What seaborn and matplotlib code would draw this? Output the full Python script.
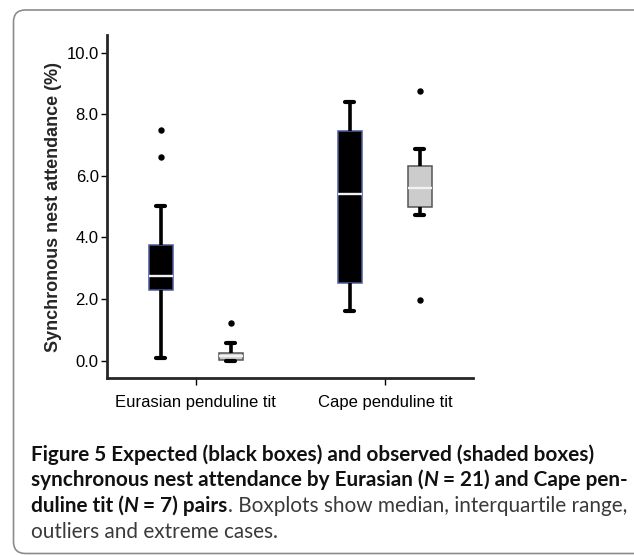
import matplotlib
matplotlib.use("Agg")
import matplotlib.pyplot as plt
from matplotlib.patches import FancyBboxPatch
from matplotlib.transforms import IdentityTransform
import pandas as pd
import seaborn as sns

# valores estimados desde la figura (cuartiles, bigotes y atipicos)
species = ["Eurasian penduline tit", "Cape penduline tit"]
conditions = ["Expected", "Observed"]
eurasian_expected = [0.10, 0.9, 1.5, 1.9, 2.1, 2.29, 2.4, 2.5, 2.6, 2.7, 2.75,
                     2.9, 3.1, 3.3, 3.5, 3.76, 4.1, 4.6, 5.03, 6.60, 7.48]
eurasian_observed = [0.0, 0.0, 0.01, 0.02, 0.03, 0.04, 0.06, 0.08, 0.11, 0.13, 0.15,
                     0.17, 0.19, 0.21, 0.24, 0.26, 0.30, 0.38, 0.45, 0.56, 1.24]
cape_expected = [1.61, 2.20, 2.82, 5.41, 7.10, 7.82, 8.40]
cape_observed = [1.96, 4.73, 5.27, 5.62, 5.78, 6.86, 8.74]
yticks = [0.0, 2.0, 4.0, 6.0, 8.0, 10.0]
ylabel = "Synchronous nest attendance (%)"

filas = []
for sp, cond, vals in [(species[0], conditions[0], eurasian_expected),
                       (species[0], conditions[1], eurasian_observed),
                       (species[1], conditions[0], cape_expected),
                       (species[1], conditions[1], cape_observed)]:
    for v in vals:
        filas.append({"species": sp, "condition": cond, "value": v})
df = pd.DataFrame(filas)

sns.set_style("ticks")
plt.rcParams["font.family"] = ["Liberation Sans", "DejaVu Sans"]

W, H = 634, 555
fig = plt.figure(figsize=(W / 100, H / 100), dpi=100)

# marco redondeado
marco = FancyBboxPatch((13.5, 1.5), 700, H - 11.5,
                       boxstyle="round,pad=0,rounding_size=12",
                       transform=IdentityTransform(), facecolor="none",
                       edgecolor="#8c8c8c", linewidth=1.2, zorder=-1)
fig.add_artist(marco)

ax = fig.add_axes([107 / W, 1 - 378 / H, 366 / W, 343 / H])
ax.patch.set_alpha(0)
sns.boxplot(data=df, x="species", y="value", hue="condition",
            order=species, hue_order=conditions,
            palette=["black", "#cccccc"], width=0.74, gap=0.65,
            linecolor="black", linewidth=1,
            whiskerprops=dict(linewidth=2.6, color="black"),
            capprops=dict(linewidth=3, color="black"),
            medianprops=dict(color="#f2f2f2", linewidth=1.7),
            flierprops=dict(marker="o", markersize=3.6, markerfacecolor="black",
                            markeredgecolor="black"),
            capwidths=0.047, legend=False, ax=ax)

for p in ax.patches:
    fc = p.get_facecolor()
    if fc[0] < 0.5:
        p.set_edgecolor("#4d5a9c")
    else:
        p.set_edgecolor("#555555")
    p.set_linewidth(1.1)

ax.set_xlim(-0.47, 1.466)
ax.set_ylim(-0.56, 10.57)
ax.set_yticks(yticks)
ax.set_yticklabels([f"{t:.1f}" for t in yticks])
ax.set_xlabel("")
ax.set_ylabel(ylabel, fontsize=13, fontweight="bold", labelpad=3)
sns.despine(ax=ax)
for s in ["left", "bottom"]:
    ax.spines[s].set_linewidth(2)
ax.tick_params(axis="y", length=4, width=1, pad=2, labelsize=12, colors="black")
ax.tick_params(axis="x", length=5, width=1, pad=7, labelsize=12, colors="black")

# pie de figura
lineas = [
    [("Figure 5 Expected (black boxes) and observed (shaded boxes)", "b")],
    [("synchronous nest attendance by Eurasian (", "b"), ("N ", "bi"),
     ("= 21) and Cape pen-", "b")],
    [("duline tit (", "b"), ("N ", "bi"), ("= 7) pairs", "b"),
     (". Boxplots show median, interquartile range,", "r")],
    [("outliers and extreme cases.", "r")],
]
estilos = {"b": dict(fontweight="bold", color="#111111"),
           "bi": dict(fontweight="bold", fontstyle="italic", color="#111111"),
           "r": dict(fontweight="normal", color="#3a3a3a")}
fuente = "Lato"
rend = fig.canvas.get_renderer()


def ancho(s, size, kw):
    t = fig.text(0, 0, s + "|", fontsize=size, family=fuente, **kw)
    t2 = fig.text(0, 0, "|", fontsize=size, family=fuente, **kw)
    w = t.get_window_extent(rend).width - t2.get_window_extent(rend).width
    t.remove()
    t2.remove()
    return w


# ajustar tamano para que la primera linea ocupe ~566 px
w10 = ancho(lineas[0][0][0], 10, estilos["b"])
size = 10 * 566 / w10

x0 = 31
bases = [461, 486, 512, 538]
for runs, yb in zip(lineas, bases):
    x = x0
    for s, st in runs:
        fig.text(x / W, 1 - yb / H, s, fontsize=size, family=fuente,
                 va="baseline", ha="left", **estilos[st])
        x += ancho(s, size, estilos[st])

fig.savefig("out.png", dpi=100)
